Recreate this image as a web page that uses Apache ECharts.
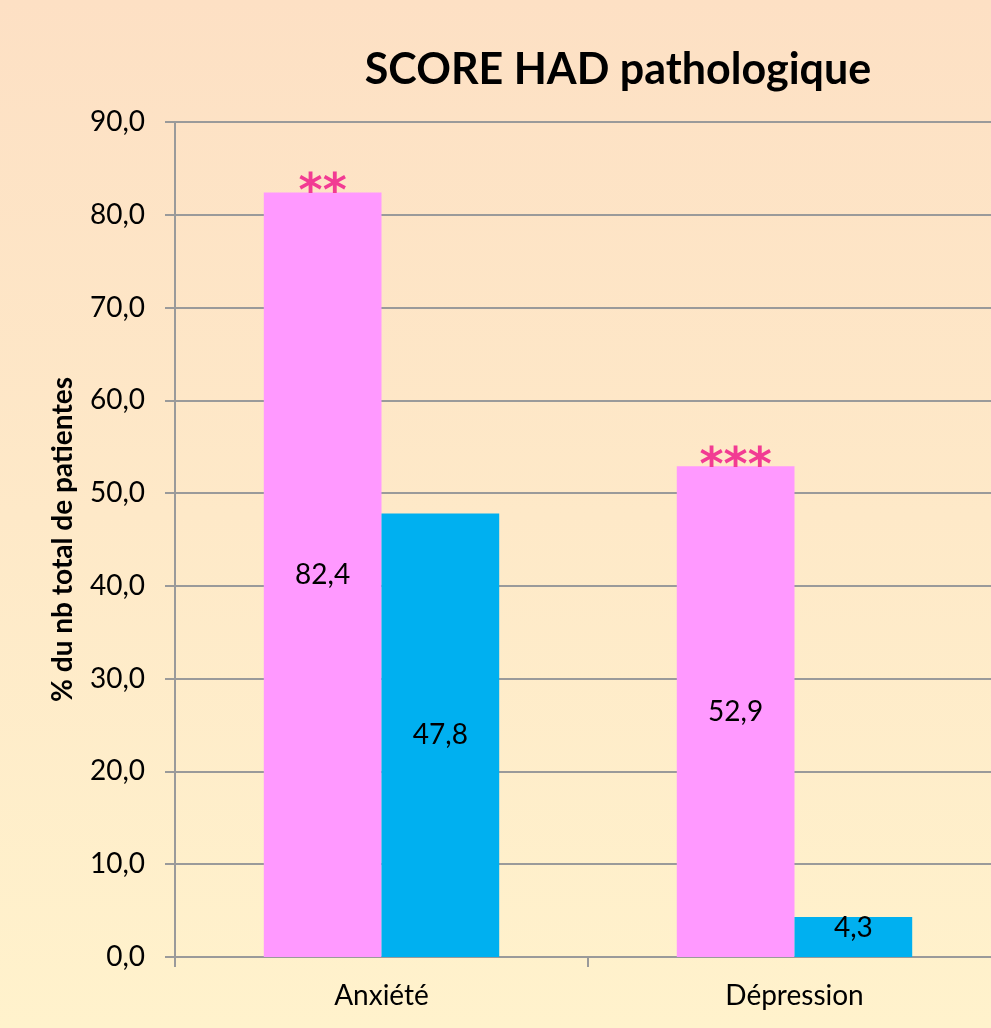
<!DOCTYPE html>
<html>
<head>
    <meta charset="utf-8">
    <script src="https://cdn.jsdelivr.net/npm/echarts@6/dist/echarts.min.js"></script>
    <style>
        html, body { margin: 0; padding: 0; }
    </style>
</head>
<body>
<div id="main" style="width: 991px;height:1028px;"></div>

<script type="text/javascript">
    // données
    var categories = ['Anxiété', 'Dépression'];
    var serieRose = [82.4, 52.9];
    var serieBleue = [47.8, 4.3];
    var etoiles = ['**', '***'];

    var myChart = echarts.init(document.getElementById('main'));

    function virgule(v) {
        return v.toFixed(1).replace('.', ',');
    }

    var police = 'Lato';

    var option = {
        backgroundColor: new echarts.graphic.LinearGradient(0, 0, 0, 1, [
            { offset: 0, color: '#fde0c4' },
            { offset: 1, color: '#fff2cc' }
        ]),
        animation: false,
        textStyle: { fontFamily: police },
        title: {
            text: 'SCORE HAD pathologique',
            left: 613,
            top: 44,
            textAlign: 'center',
            textStyle: { fontSize: 43, fontWeight: 'bold', color: '#000', fontFamily: police }
        },
        grid: { left: 175, top: 122, width: 826, bottom: 71, containLabel: false, outerBoundsMode: 'none' },
        xAxis: {
            type: 'category',
            data: categories,
            axisLine: { lineStyle: { color: '#9a9a9a', width: 2 } },
            axisTick: { show: true, length: 10, lineStyle: { color: '#9a9a9a', width: 2 } },
            axisLabel: { fontSize: 28, color: '#000', margin: 25 }
        },
        yAxis: {
            type: 'value',
            min: 0,
            max: 90,
            interval: 10,
            name: '% du nb total de patientes',
            nameLocation: 'middle',
            nameGap: 98,
            nameTextStyle: { fontSize: 28, fontWeight: 'bold', color: '#000' },
            axisLine: { show: true, lineStyle: { color: '#9a9a9a', width: 2 } },
            axisTick: { show: true, length: 10, lineStyle: { color: '#9a9a9a', width: 2 } },
            axisLabel: {
                fontSize: 28, color: '#000', margin: 30,
                formatter: function (v) { return virgule(v); }
            },
            splitLine: { lineStyle: { color: '#9a9a9a', width: 2 } }
        },
        series: [
            {
                type: 'bar',
                data: serieRose,
                barGap: '0%',
                barCategoryGap: '43%',
                itemStyle: { color: '#ff99ff' },
                label: {
                    show: true, position: 'inside', fontSize: 28, color: '#000',
                    formatter: function (p) { return virgule(p.value); }
                },
                markPoint: {
                    symbol: 'circle',
                    symbolSize: 1,
                    itemStyle: { color: 'rgba(0,0,0,0)' },
                    label: {
                        show: true, position: 'inside', offset: [0, 2],
                        fontSize: 46, fontWeight: 'bold', color: '#f23b93',
                        fontFamily: 'DejaVu Sans',
                        formatter: function (p) { return p.name; }
                    },
                    data: categories.map(function (c, i) {
                        return { name: etoiles[i], coord: [c, serieRose[i]] };
                    })
                }
            },
            {
                type: 'bar',
                data: serieBleue.map(function (v) {
                    return v < 10 ? { value: v, label: { position: 'insideTop', distance: -3 } } : v;
                }),
                itemStyle: { color: '#00b0f0' },
                label: {
                    show: true, position: 'inside', fontSize: 28, color: '#000',
                    formatter: function (p) { return virgule(p.value); }
                }
            }
        ]
    };

    myChart.setOption(option);
</script>
</body>
</html>
